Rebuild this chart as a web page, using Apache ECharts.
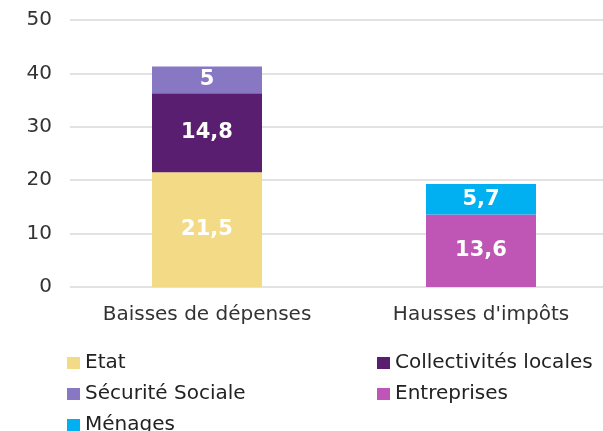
<!DOCTYPE html>
<html>
<head>
<meta charset="utf-8">
<script src="https://cdn.jsdelivr.net/npm/echarts@6/dist/echarts.min.js"></script>
<style>
  html, body { margin: 0; padding: 0; background: #fff; }
  #chart { width: 603px; height: 431px; }
</style>
</head>
<body>
<div id="chart"></div>
<script>
const categories = ['Baisses de dépenses', "Hausses d'impôts"]
const etat = [21.5, null]
const collectivites = [14.8, null]
const securite = [5, null]
const entreprises = [null, 13.6]
const menages = [null, 5.7]
const yTicks = [0, 10, 20, 30, 40, 50]

const FONT = 'DejaVu Sans'

const chart = echarts.init(document.getElementById('chart'))

const labelStyle = {
  show: true,
  color: '#fff',
  fontFamily: FONT,
  fontWeight: 'bold',
  fontSize: 21,
  formatter: p => String(p.value).replace('.', ',')
}

const makeSeries = (name, data, color) => ({
  name,
  type: 'bar',
  stack: 'total',
  barWidth: 110,
  data,
  itemStyle: { color },
  label: labelStyle
})

const legendBase = {
  orient: 'vertical',
  top: 353,
  height: 120,
  padding: 0,
  icon: 'rect',
  itemWidth: 13,
  itemHeight: 12,
  itemGap: 11,
  textStyle: { fontFamily: FONT, fontSize: 20, lineHeight: 18, color: '#222' }
}

chart.setOption({
  animation: false,
  grid: { left: 70, width: 548, top: 20, height: 267, outerBoundsMode: 'none' },
  xAxis: {
    type: 'category',
    data: categories,
    axisLine: { show: false },
    axisTick: { show: false },
    axisLabel: { fontFamily: FONT, fontSize: 20, color: '#333', margin: 18, hideOverlap: false }
  },
  yAxis: {
    type: 'value',
    min: yTicks[0],
    max: yTicks[yTicks.length - 1],
    interval: 10,
    axisLabel: { fontFamily: FONT, fontSize: 20, color: '#333', margin: 18 },
    splitLine: { lineStyle: { color: '#d9d9d9', width: 1.5 } }
  },
  legend: [
    Object.assign({ data: ['Etat', 'Sécurité Sociale', 'Ménages'], left: 67 }, legendBase),
    Object.assign({ data: ['Collectivités locales', 'Entreprises'], left: 377 }, legendBase)
  ],
  series: [
    makeSeries('Etat', etat, '#f3da87'),
    makeSeries('Collectivités locales', collectivites, '#5a1e70'),
    makeSeries('Sécurité Sociale', securite, '#8878c4'),
    makeSeries('Entreprises', entreprises, '#bf55b4'),
    makeSeries('Ménages', menages, '#00b0f0')
  ]
})
</script>
</body>
</html>
